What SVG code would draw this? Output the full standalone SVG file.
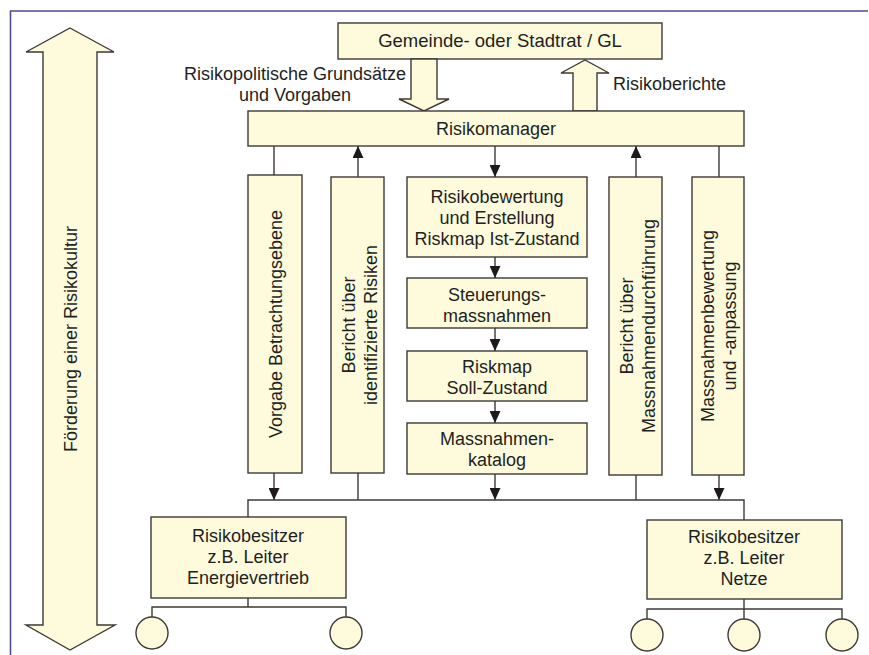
<svg xmlns="http://www.w3.org/2000/svg" width="869" height="655" viewBox="0 0 869 655">
<style>
.box{fill:#fdfbdc;stroke:#3f3936;stroke-width:1.4}
.ln{fill:none;stroke:#3f3936;stroke-width:1.4}
.t{font-family:"Liberation Sans",Arial,sans-serif;font-size:18px;fill:#231f1e;text-anchor:middle}
</style>
<defs>
<marker id="ah" markerUnits="userSpaceOnUse" markerWidth="12" markerHeight="11" refX="12" refY="5.5" orient="auto">
<path d="M0,0 L12,5.5 L0,11 z" fill="#1e1a19"/>
</marker>
</defs>
<rect width="869" height="655" fill="#ffffff"/>
<path d="M10.5,655 V11 H868" fill="none" stroke="#4d4a8c" stroke-width="1.6"/>

<g id="foerderung">
<polygon class="box" points="70,28 114,52 97,52 97,625 115,625 70,650 26,625 43,625 43,52 26,52"/>
<text class="t" transform="translate(77,339) rotate(-90)">Förderung einer Risikokultur</text>
</g>

<g id="gemeinde">
<rect class="box" x="338" y="23" width="324" height="36"/>
<text class="t" x="500" y="47" style="font-size:18.5px">Gemeinde- oder Stadtrat / GL</text>
</g>

<g id="pfeil-vorgaben">
<polygon class="box" points="411,59 437,59 437,99 449,99 424,111 399,99 411,99"/>
<text class="t" x="295" y="80">Risikopolitische Grundsätze</text>
<text class="t" x="295" y="101">und Vorgaben</text>
</g>

<g id="pfeil-berichte">
<polygon class="box" points="573,111 573,73 561,73 585,60 609,73 597,73 597,111"/>
<text class="t" x="613" y="90" style="text-anchor:start">Risikoberichte</text>
</g>

<g id="risikomanager">
<rect class="box" x="248" y="111" width="496" height="35"/>
<text class="t" x="496" y="135">Risikomanager</text>
</g>

<g id="vorgabe">
<rect class="box" x="248" y="175" width="54" height="298"/>
<text class="t" transform="translate(282,324) rotate(-90)">Vorgabe Betrachtungsebene</text>
</g>

<g id="bericht-risiken">
<rect class="box" x="331" y="177" width="53" height="296"/>
<text class="t" transform="translate(355,325) rotate(-90)">Bericht über</text>
<text class="t" transform="translate(377,325) rotate(-90)">identifizierte Risiken</text>
</g>

<g id="risikobewertung">
<rect class="box" x="407" y="177" width="180" height="80"/>
<text class="t" x="497" y="203">Risikobewertung</text>
<text class="t" x="497" y="224">und Erstellung</text>
<text class="t" x="497" y="245">Riskmap Ist-Zustand</text>
</g>

<g id="steuerung">
<rect class="box" x="407" y="278" width="180" height="50"/>
<text class="t" x="497" y="301">Steuerungs-</text>
<text class="t" x="497" y="322">massnahmen</text>
</g>

<g id="riskmap-soll">
<rect class="box" x="407" y="351" width="180" height="50"/>
<text class="t" x="497" y="373">Riskmap</text>
<text class="t" x="497" y="394">Soll-Zustand</text>
</g>

<g id="katalog">
<rect class="box" x="407" y="423" width="180" height="51"/>
<text class="t" x="497" y="445">Massnahmen-</text>
<text class="t" x="497" y="466">katalog</text>
</g>

<g id="bericht-massnahmen">
<rect class="box" x="609" y="177" width="53" height="298"/>
<text class="t" transform="translate(633,326) rotate(-90)">Bericht über</text>
<text class="t" transform="translate(655,326) rotate(-90)">Massnahmendurchführung</text>
</g>

<g id="massnahmenbewertung">
<rect class="box" x="692" y="177" width="52" height="298"/>
<text class="t" transform="translate(714,326) rotate(-90)">Massnahmenbewertung</text>
<text class="t" transform="translate(736,326) rotate(-90)">und -anpassung</text>
</g>

<g id="besitzer-energie">
<rect class="box" x="151" y="517" width="195" height="81"/>
<text class="t" x="248" y="542">Risikobesitzer</text>
<text class="t" x="248" y="563">z.B. Leiter</text>
<text class="t" x="248" y="584">Energievertrieb</text>
</g>

<g id="besitzer-netze">
<rect class="box" x="647" y="520" width="195" height="79"/>
<text class="t" x="744" y="543">Risikobesitzer</text>
<text class="t" x="744" y="564">z.B. Leiter</text>
<text class="t" x="744" y="585">Netze</text>
</g>

<g id="kreise">
<circle class="box" cx="152" cy="633" r="16"/>
<circle class="box" cx="346" cy="633" r="16"/>
<circle class="box" cx="647" cy="635" r="16"/>
<circle class="box" cx="744" cy="635" r="16"/>
<circle class="box" cx="842" cy="635" r="16"/>
</g>

<g id="connectors">
<path class="ln" d="M274,146 V175"/>
<path class="ln" d="M358,177 V146" marker-end="url(#ah)"/>
<path class="ln" d="M495,146 V177" marker-end="url(#ah)"/>
<path class="ln" d="M636,177 V146" marker-end="url(#ah)"/>
<path class="ln" d="M719,146 V177"/>
<path class="ln" d="M495,257 V278" marker-end="url(#ah)"/>
<path class="ln" d="M495,328 V351" marker-end="url(#ah)"/>
<path class="ln" d="M495,401 V423" marker-end="url(#ah)"/>
<path class="ln" d="M495,474 V500" marker-end="url(#ah)"/>
<path class="ln" d="M274,473 V500" marker-end="url(#ah)"/>
<path class="ln" d="M358,473 V500"/>
<path class="ln" d="M636,475 V500"/>
<path class="ln" d="M719,475 V500" marker-end="url(#ah)"/>
<path class="ln" d="M248,517 V500 H744 V520"/>
<path class="ln" d="M248,598 V607"/>
<path class="ln" d="M152,617 V607 H346 V617"/>
<path class="ln" d="M744,599 V609"/>
<path class="ln" d="M647,619 V609 H842 V619"/>
<path class="ln" d="M744,609 V619"/>
</g>
</svg>
